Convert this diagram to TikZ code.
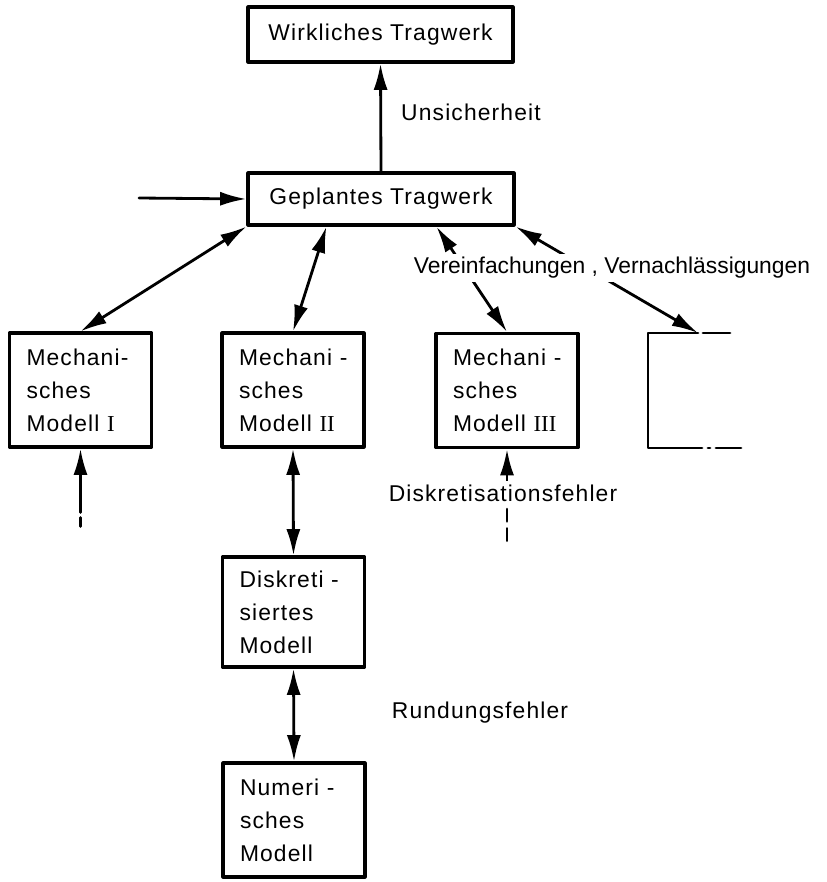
\documentclass[tikz,border=0pt]{standalone}
\usepackage{fontspec}
\setmainfont{Liberation Sans}[LetterSpace=5]
\newfontfamily\romfont{Liberation Serif}
\usetikzlibrary{arrows.meta,calc}

\def\px{0.02cm}

\begin{document}
\begin{tikzpicture}[x=\px, y=-\px, line cap=round, line join=round,
	>={Latex[length=15pt,width=8pt]}, line width=1.6pt,
	font=\fontsize{13}{18.8}\selectfont,
	kasten/.style={draw, line width=1.8pt, inner sep=0pt},
	modell/.style={draw, line width=1.8pt, align=left, inner xsep=17*\px,
		text width=108*\px, minimum height=114*\px},
	hinweis/.style={fill=white, inner sep=2pt}]
	
	% Rahmen des Bildes
	\useasboundingbox (0,0) rectangle (826,882);
	
	% Tragwerke
	\node[kasten, minimum width=265*\px, minimum height=55*\px] (wirk) at (380.5,34.5) {Wirkliches Tragwerk};
	\node[kasten, minimum width=266*\px, minimum height=52*\px] (gepl) at (381,199) {Geplantes Tragwerk};
	
	% Mechanische Modelle
	\node[modell] (mech1) at (80.5,390) {\mbox{Mechani-}\\sches\\\mbox{Modell {\romfont I}}};
	\node[modell] (mech2) at (293,390) {\mbox{Mechani -}\\sches\\\mbox{Modell {\romfont II}}};
	\node[modell] (mech3) at (507,390.5) {\mbox{Mechani -}\\sches\\\mbox{Modell {\romfont III}}};
	
	% Diskretes und numerisches Modell
	\node[modell, minimum height=110*\px] (disk) at (293.5,612) {\mbox{Diskreti -}\\siertes\\Modell};
	\node[modell, minimum height=114*\px] (num) at (294,820) {\mbox{Numeri -}\\sches\\Modell};
	
	% Freie Enden
	\coordinate (zufluss) at (139,198);
	\coordinate (rest) at (698,333);
	\coordinate (m1fuss) at ($(mech1.south)+(0,55)$);
	\coordinate (m1ende) at ($(mech1.south)+(0,82)$);
	\coordinate (m3fuss) at ($(mech3.south)+(0,60)$);
	\coordinate (m3ende) at ($(mech3.south)+(0,94)$);
	
	% Verbindungen
	\draw[->] (gepl.north) -- (wirk.south);
	\draw[->] (zufluss) -- (gepl.west);
	\draw[<->] (gepl.south west) -- (mech1.north);
	\draw[<->] ($(gepl.south west)+(80,0)$) -- (mech2.north);
	\draw[<->] ($(gepl.south west)+(190,0)$) -- (mech3.north);
	\draw[<->] (gepl.south east) -- (rest);
	\draw[<->] (mech2.south) -- (disk.north);
	\draw[<->] (disk.south) -- (num.north);
	
	% Zufluss von unten (gestrichelt)
	\draw[->] (m1fuss) -- (mech1.south);
	\draw[dash pattern=on 5pt off 3pt] (m1fuss) -- (m1ende);
	\draw[->] ($(mech3.south)+(0,48)$) -- (mech3.south);
	\draw[dash pattern=on 7pt off 4pt] (m3fuss) -- (m3ende);
	
	% angedeutetes weiteres Modell
	\draw (rest) -- (648,333) -- (648,448) -- (702,448);
	\draw (703,333) -- (730,333);
	\draw (708,448) -- (710,448);
	\draw (716,448) -- (741,448);
	
	% Beschriftungen
	\node[hinweis] (unsich) at (471,112) {Unsicherheit};
	\node[hinweis, font=\fontsize{13}{18.8}\selectfont\addfontfeature{LetterSpace=0}] (verein) at (612,268) {Vereinfachungen , Vernachlässigungen};
	\node[hinweis] (diskf) at (503,493) {Diskretisationsfehler};
	\node[hinweis] (rund) at (480,713) {Rundungsfehler};
	
\end{tikzpicture}
\end{document}
